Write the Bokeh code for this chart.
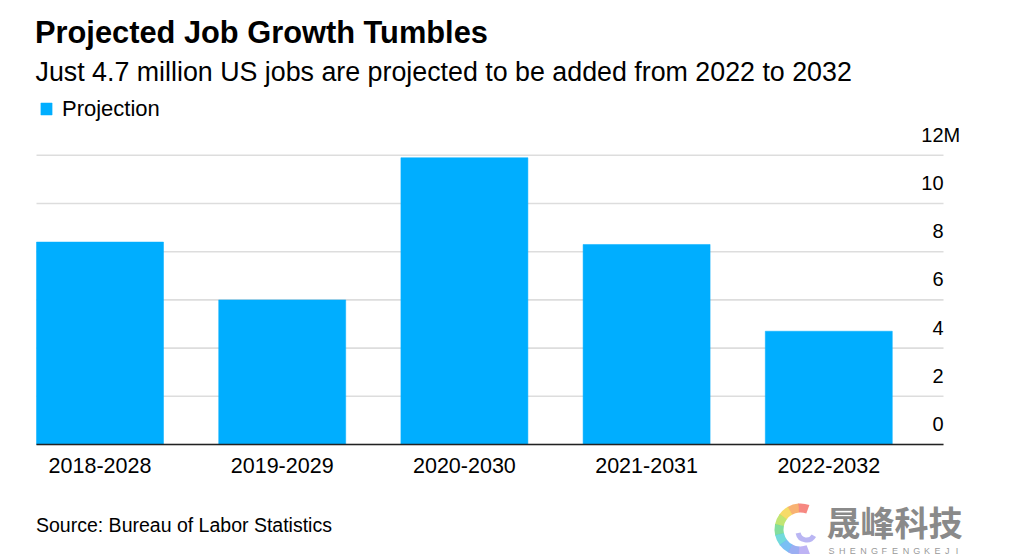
import math
from bokeh.plotting import figure
from bokeh.models import ColumnDataSource, Legend, LegendItem
from bokeh.core.properties import value
from bokeh.embed import file_html
from bokeh.resources import INLINE

# ---- data ----
periods = ["2018-2028", "2019-2029", "2020-2030", "2021-2031", "2022-2032"]
jobs_millions = [8.4, 6.0, 11.9, 8.3, 4.7]
y_ticks = [0, 2, 4, 6, 8, 10, 12]
y_tick_labels = ["0", "2", "4", "6", "8", "10", "12"]
y_unit = "M"
series_name = "Projection"
title_text = "Projected Job Growth Tumbles"
subtitle_text = "Just 4.7 million US jobs are projected to be added from 2022 to 2032"
source_text = "Source: Bureau of Labor Statistics"
watermark_cn = "晟峰科技"
watermark_en = "SHENGFENGKEJI"

# ---- layout / style constants (pixels) ----
W, H = 1016, 554
FONT = value("Liberation Sans")
BAR = "#00aeff"
PX_PER_CAT = 182.2      # distance between bar centres
PX_PER_M = 24.1         # pixels per million jobs
X0_PX, Y0_PX = 99.5, 444.0   # first bar centre, zero line
PLOT_LEFT_PX, PLOT_RIGHT_PX = 36.0, 943.0
BAR_WIDTH = 0.697

def dx(px):
    return (px - X0_PX) / PX_PER_CAT

def dy(py):
    return (Y0_PX - py) / PX_PER_M

p = figure(width=W, height=H, output_backend="svg", toolbar_location=None,
           x_range=(dx(0), dx(W)), y_range=(dy(H), dy(0)),
           x_axis_location=None, y_axis_location=None, min_border=0)
p.outline_line_color = None
p.background_fill_color = "white"
p.border_fill_color = "white"
p.grid.visible = False

gl, gr = dx(PLOT_LEFT_PX), dx(PLOT_RIGHT_PX)

# gridlines
p.segment(x0=[gl] * len(y_ticks), x1=[gr] * len(y_ticks), y0=y_ticks, y1=y_ticks,
          line_color="#dddddd", line_width=1.6)

x_idx = list(range(len(periods)))
src = ColumnDataSource(dict(x=x_idx, top=jobs_millions, period=periods))
r = p.vbar(x="x", top="top", width=BAR_WIDTH, bottom=0, source=src,
           fill_color=BAR, line_color=BAR, line_width=0.5)

# baseline
p.segment(x0=[gl], x1=[gr], y0=[0], y1=[0], line_color="#222222", line_width=1.5)

# x tick labels
p.text(x=x_idx, y=[0] * len(x_idx), text=periods, text_font=FONT,
       text_font_size="21.5px", text_color="black", text_align="center",
       text_baseline="alphabetic", y_offset=20.5)

# y tick labels (right-aligned on the gridline end, above the line)
p.text(x=[gr] * len(y_ticks), y=y_ticks, text=y_tick_labels, text_font=FONT,
       text_font_size="20px", text_color="black", text_align="right",
       text_baseline="alphabetic", y_offset=-20.5)
p.text(x=[gr], y=[y_ticks[-1]], text=[y_unit], text_font=FONT,
       text_font_size="20px", text_color="black", text_align="left",
       text_baseline="alphabetic", y_offset=-20.5)

# titles & source
def page_text(text, px, py, size, style="normal", color="black", font=FONT,
              align="left", baseline="alphabetic"):
    p.text(x=[dx(px)], y=[dy(py)], text=[text], text_font=font, text_font_size=size,
           text_font_style=style, text_color=color, text_align=align,
           text_baseline=baseline)

page_text(title_text, 34.5, 31.5, "30.8px", style="bold")
page_text(subtitle_text, 35, 71, "26.8px")
page_text(source_text, 35.5, 524, "19.5px")

# legend
legend = Legend(items=[LegendItem(label=series_name, renderers=[r])],
                location=(39, H - 121.5), orientation="horizontal",
                glyph_width=14, glyph_height=15, label_standoff=9,
                padding=0, margin=0, border_line_color=None,
                background_fill_alpha=0, label_text_font="Liberation Sans",
                label_text_font_size="22px", label_text_color="black")
p.add_layout(legend)

# watermark
page_text(watermark_cn, 826, 521, "34px", style="bold", color="#8a8a8a",
          font=value("Noto Sans CJK SC"), baseline="middle")
letters = list(watermark_en)
step = 10.6
p.text(x=[dx(828 + i * step) for i in range(len(letters))],
       y=[dy(550)] * len(letters), text=letters, text_font=FONT,
       text_font_size="9px", text_color="#9a9a9a", text_align="left",
       text_baseline="middle")

# watermark logo (stylised swirl)
logo_colors = ["#f4736b", "#f7a45a", "#f5d54e", "#b6e05a", "#6fd88c", "#5bd3d6",
               "#63b4f2", "#8aa0f0", "#b3a6f2"]
n = len(logo_colors)
a0, a1 = math.radians(70), math.radians(290)
seg = (a1 - a0) / n
p.annular_wedge(x=[dx(800)] * n, y=[dy(529)] * n, inner_radius=17, outer_radius=26,
                inner_radius_units="screen", outer_radius_units="screen",
                start_angle=[a0 + i * seg for i in range(n)],
                end_angle=[a0 + (i + 1) * seg + 0.02 for i in range(n)],
                fill_color=logo_colors, line_color=None, fill_alpha=0.85)
p.annular_wedge(x=[dx(806)], y=[dy(531)], inner_radius=6, outer_radius=11,
                inner_radius_units="screen", outer_radius_units="screen",
                start_angle=[math.radians(190)], end_angle=[math.radians(330)],
                fill_color="#a9a4f0", line_color=None, fill_alpha=0.8)

open("out.html", "w").write(file_html(p, INLINE))
